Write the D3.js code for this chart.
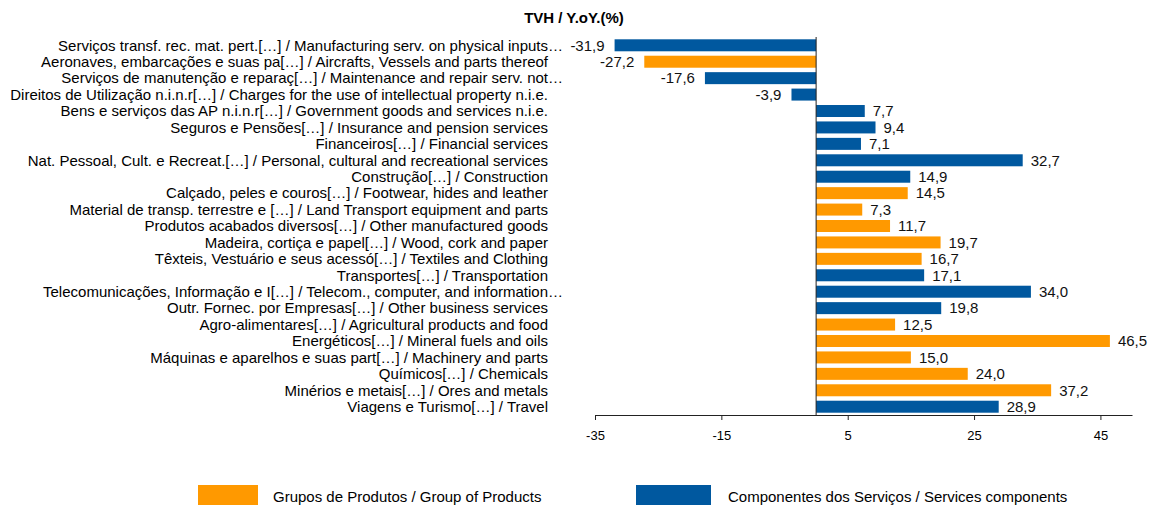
<!DOCTYPE html>
<html>
<head>
<meta charset="utf-8">
<script src="https://cdn.jsdelivr.net/npm/d3@7"></script>
<style>
  body { margin: 0; background: #fff; }
  svg { display: block; font-family: "Liberation Sans", Arial, sans-serif; }
</style>
</head>
<body>
<div id="container"></div>
<script>
// chart data, top row first
let categories = [
  "Serviços transf. rec. mat. pert.[…] / Manufacturing serv. on physical inputs…",
  "Aeronaves, embarcações e suas pa[…] / Aircrafts, Vessels and parts thereof",
  "Serviços de manutenção e reparaç[…] / Maintenance and repair serv. not…",
  "Direitos de Utilização n.i.n.r[…] / Charges for the use of intellectual property n.i.e.",
  "Bens e serviços das AP n.i.n.r[…] / Government goods and services n.i.e.",
  "Seguros e Pensões[…] / Insurance and pension services",
  "Financeiros[…] / Financial services",
  "Nat. Pessoal, Cult. e Recreat.[…] / Personal, cultural and recreational services",
  "Construção[…] / Construction",
  "Calçado, peles e couros[…] / Footwear, hides and leather",
  "Material de transp. terrestre e […] / Land Transport equipment and parts",
  "Produtos acabados diversos[…] / Other manufactured goods",
  "Madeira, cortiça e papel[…] / Wood, cork and paper",
  "Têxteis, Vestuário e seus acessó[…] / Textiles and Clothing",
  "Transportes[…] / Transportation",
  "Telecomunicações, Informação e I[…] / Telecom., computer, and information…",
  "Outr. Fornec. por Empresas[…] / Other business services",
  "Agro-alimentares[…] / Agricultural products and food",
  "Energéticos[…] / Mineral fuels and oils",
  "Máquinas e aparelhos e suas part[…] / Machinery and parts",
  "Químicos[…] / Chemicals",
  "Minérios e metais[…] / Ores and metals",
  "Viagens e Turismo[…] / Travel"
];
let values = [-31.9, -27.2, -17.6, -3.9, 7.7, 9.4, 7.1, 32.7, 14.9, 14.5, 7.3, 11.7, 19.7, 16.7, 17.1, 34.0, 19.8, 12.5, 46.5, 15.0, 24.0, 37.2, 28.9];
// S = services component, P = product group
let groups = ["S", "P", "S", "S", "S", "S", "S", "S", "S", "P", "P", "P", "P", "P", "S", "S", "S", "P", "P", "P", "P", "P", "S"];
let tick_values = [-35, -15, 5, 25, 45];
let series_names = ["Grupos de Produtos / Group of Products", "Componentes dos Serviços / Services components"];
let title = "TVH / Y.oY.(%)";

let width = 1153;
let height = 505;
let margin = ({ top: 37, right: 21, bottom: 90, left: 595 });

let colors = { P: "#ff9900", S: "#00589f" };

let locale = d3.formatLocale({ decimal: ",", thousands: ".", grouping: [3], currency: ["", "€"], minus: "-" });
let fmt = locale.format(".1f");

let rows = categories.map(function (c, i) {
  return { name: c, value: values[i], group: groups[i] };
});

let svg = d3.select("#container")
  .append("svg")
  .attr("width", width)
  .attr("height", height);

let x = d3.scaleLinear()
  .domain([-35, 50])
  .range([margin.left, width - margin.right]);

let y = d3.scaleBand()
  .domain(categories)
  .range([margin.top, height - margin.bottom])
  .paddingInner(0.27)
  .paddingOuter(0.14);

svg.append("text")
  .attr("x", 574)
  .attr("y", 23)
  .attr("text-anchor", "middle")
  .attr("font-weight", "bold")
  .attr("font-size", 15)
  .text(title);

svg.selectAll(".bar")
  .data(rows)
  .enter()
  .append("rect")
  .attr("class", "bar")
  .attr("x", function (d) { return x(Math.min(0, d.value)); })
  .attr("y", function (d) { return y(d.name); })
  .attr("width", function (d) { return Math.abs(x(d.value) - x(0)); })
  .attr("height", y.bandwidth())
  .attr("fill", function (d) { return colors[d.group]; });

// category labels, right aligned; the "…" ones run past the edge
svg.selectAll(".cat")
  .data(rows)
  .enter()
  .append("text")
  .attr("class", "cat")
  .attr("x", function (d) { return d.name.endsWith("…") ? 563 : 548; })
  .attr("y", function (d) { return y(d.name) + y.bandwidth() / 2; })
  .attr("dy", "0.35em")
  .attr("text-anchor", "end")
  .attr("font-size", 15)
  .attr("fill", "#000")
  .text(function (d) { return d.name; });

svg.selectAll(".val")
  .data(rows)
  .enter()
  .append("text")
  .attr("class", "val")
  .attr("x", function (d) { return d.value < 0 ? x(d.value) - 10 : x(d.value) + 8; })
  .attr("y", function (d) { return y(d.name) + y.bandwidth() / 2; })
  .attr("dy", "0.35em")
  .attr("text-anchor", function (d) { return d.value < 0 ? "end" : "start"; })
  .attr("font-size", 15)
  .attr("fill", "#111")
  .text(function (d) { return fmt(d.value); });

// zero line
svg.append("line")
  .attr("x1", x(0))
  .attr("x2", x(0))
  .attr("y1", margin.top)
  .attr("y2", height - margin.bottom)
  .attr("stroke", "#222")
  .attr("stroke-width", 1);

function fmt0(v) { return locale.format("d")(v); }

let xAxis = svg.append("g")
  .attr("transform", "translate(0," + (height - margin.bottom) + ")")
  .call(d3.axisBottom(x).tickValues(tick_values).tickSize(5).tickSizeOuter(0).tickFormat(fmt0));

xAxis.select(".domain").attr("stroke", "#222");
xAxis.selectAll(".tick line").attr("stroke", "#222");
xAxis.selectAll(".tick text")
  .attr("font-size", 13)
  .attr("font-family", "Liberation Sans, Arial, sans-serif")
  .attr("fill", "#000")
  .attr("dy", "1.3em");

// legend
let legend = svg.append("g");
let legend_items = [
  { name: series_names[0], color: colors.P, x: 198, w: 60, tx: 273 },
  { name: series_names[1], color: colors.S, x: 636, w: 75, tx: 728 }
];
legend.selectAll("rect")
  .data(legend_items)
  .enter()
  .append("rect")
  .attr("x", function (d) { return d.x; })
  .attr("y", 485)
  .attr("width", function (d) { return d.w; })
  .attr("height", 20)
  .attr("fill", function (d) { return d.color; });
legend.selectAll("text")
  .data(legend_items)
  .enter()
  .append("text")
  .attr("x", function (d) { return d.tx; })
  .attr("y", 497)
  .attr("dy", "0.35em")
  .attr("font-size", 15)
  .attr("fill", "#000")
  .text(function (d) { return d.name; });
</script>
</body>
</html>
